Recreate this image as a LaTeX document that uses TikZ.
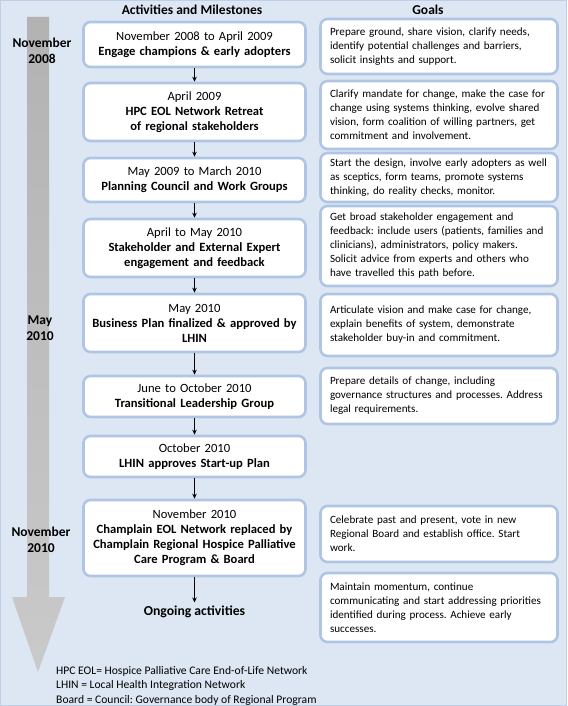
\documentclass[tikz,border=0pt]{standalone}
\usepackage{fontspec}
\setmainfont{Carlito}
\usetikzlibrary{arrows.meta}
\definecolor{bgblue}{HTML}{DDE7F3}
\definecolor{edgeblue}{HTML}{AFC5E3}
\definecolor{frameblue}{HTML}{BFD0E6}
\tikzset{
  milebox/.style={draw=edgeblue, line width=2.6pt, fill=white, rounded corners=7pt,
    minimum width=222pt, text width=218pt, align=center, inner sep=2pt,
    font=\fontsize{12.6}{15}\selectfont},
  goalbox/.style={draw=edgeblue, line width=2.6pt, fill=white, rounded corners=7pt,
    minimum width=237pt, text width=230pt, align=left, inner sep=2pt,
    font=\fontsize{11.1}{14}\selectfont, execute at begin node={\leftskip=6pt}},
  flowarrow/.style={-{Stealth[length=5pt,width=4.5pt]}, line width=0.9pt, black},
  header/.style={font=\fontsize{13.5}{15}\selectfont\bfseries},
  datelabel/.style={font=\fontsize{13.5}{16.5}\selectfont\bfseries, align=center},
  legend/.style={font=\fontsize{11.6}{14.5}\selectfont, align=left, anchor=north west, inner sep=0pt}
}
\begin{document}
\frenchspacing
\begin{tikzpicture}[x=1pt,y=-1pt]
\useasboundingbox (0,0) rectangle (567,706);
\fill[bgblue] (0,0) rectangle (567,706);
\draw[frameblue, line width=1pt] (0.5,0.5) rectangle (566.5,705.5);

% timeline arrow
\shade[top color=gray!60, bottom color=gray!42]
  (27,17) -- (49,17) -- (49,597) -- (65,597) -- (38,672) -- (12,597) -- (27,597) -- cycle;

% headers
\node[header] (h1) at (192,10) {Activities and Milestones};
\node[header] (h2) at (428,10) {Goals};

% date labels
\node[datelabel] (d1) at (42,51) {November\\2008};
\node[datelabel] (d2) at (40,328) {May\\2010};
\node[datelabel] (d3) at (41,540) {November\\2010};

% milestone boxes
\node[milebox, minimum height=45pt] (m1) at (194.5,44.5) {November 2008 to April 2009\\\textbf{Engage champions \& early adopters}};
\node[milebox, minimum height=58pt] (m2) at (194.5,112) {April 2009\\\textbf{HPC EOL Network Retreat}\\\textbf{of regional stakeholders}};
\node[milebox, minimum height=44pt] (m3) at (194.5,180) {May 2009 to March 2010\\\textbf{Planning Council and Work Groups}};
\node[milebox, minimum height=58pt] (m4) at (194.5,248) {April to May 2010\\\textbf{Stakeholder and External Expert}\\\textbf{engagement and feedback}};
\node[milebox, minimum height=58pt] (m5) at (194.5,323) {May 2010\\\textbf{Business Plan finalized \& approved by}\\\textbf{LHIN}};
\node[milebox, minimum height=41pt] (m6) at (194.5,396.5) {June to October 2010\\\textbf{Transitional Leadership Group}};
\node[milebox, minimum height=41pt] (m7) at (194.5,456.5) {October 2010\\\textbf{LHIN approves Start-up Plan}};
\node[milebox, minimum height=76pt] (m8) at (194.5,538) {November 2010\\\textbf{Champlain EOL Network replaced by}\\\textbf{Champlain Regional Hospice Palliative}\\\textbf{Care Program \& Board}};
\node[font=\fontsize{13.7}{15}\selectfont\bfseries] (m9) at (194.5,612) {Ongoing activities};

\draw[flowarrow] (m1) -- (m2);
\draw[flowarrow] (m2) -- (m3);
\draw[flowarrow] (m3) -- (m4);
\draw[flowarrow] (m4) -- (m5);
\draw[flowarrow] (m5) -- (m6);
\draw[flowarrow] (m6) -- (m7);
\draw[flowarrow] (m7) -- (m8);
\draw[flowarrow] (m8) -- (m9);

% goal boxes
\node[goalbox, minimum height=55pt] (g1) at (439,46.5) {Prepare ground, share vision, clarify needs,\\identify potential challenges and barriers,\\solicit insights and support.};
\node[goalbox, minimum height=68pt] (g2) at (439,115) {Clarify mandate for change, make the case for\\change using systems thinking, evolve shared\\vision, form coalition of willing partners, get\\commitment and involvement.};
\node[goalbox, minimum height=49pt] (g3) at (439,177.5) {Start the design, involve early adopters as well\\as sceptics, form teams, promote systems\\thinking, do reality checks, monitor.};
\node[goalbox, minimum height=80pt] (g4) at (439,246) {Get broad stakeholder engagement and\\feedback: include users (patients, families and\\clinicians), administrators, policy makers.\\Solicit advice from experts and others who\\have travelled this path before.};
\node[goalbox, minimum height=62pt] (g5) at (439,325) {Articulate vision and make case for change,\\explain benefits of system, demonstrate\\stakeholder buy-in and commitment.};
\node[goalbox, minimum height=56pt] (g6) at (439,396) {Prepare details of change, including\\governance structures and processes. Address\\legal requirements.};
\node[goalbox, minimum height=56pt] (g7) at (439,534) {Celebrate past and present, vote in new\\Regional Board and establish office. Start\\work.};
\node[goalbox, minimum height=69pt] (g8) at (439,607.5) {Maintain momentum, continue\\communicating and start addressing priorities\\identified during process. Achieve early\\successes.};

% legend
\node[legend] (leg) at (56,666) {HPC EOL= Hospice Palliative Care End-of-Life Network\\LHIN = Local Health Integration Network\\Board = Council: Governance body of Regional Program};
\end{tikzpicture}
\end{document}
